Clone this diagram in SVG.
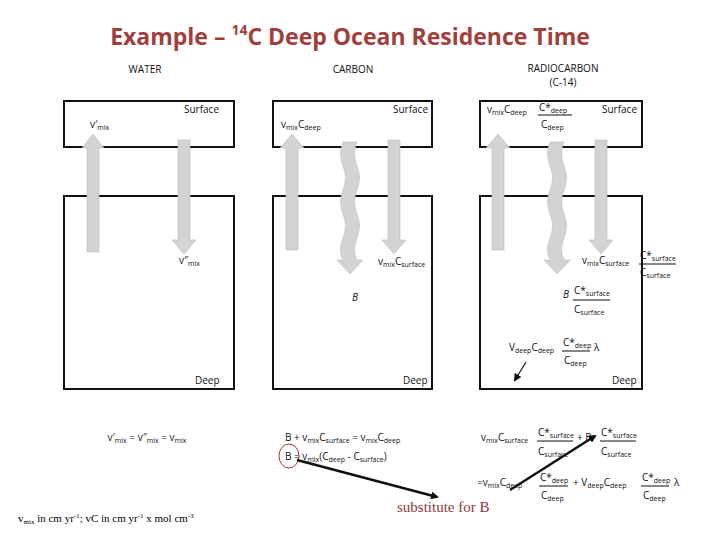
<svg xmlns="http://www.w3.org/2000/svg" width="720" height="540" viewBox="0 0 720 540">
<defs>
<style>
.t{font-family:"Open Sans","Liberation Sans",sans-serif;fill:#111}
.s{font-size:10px}
.box{fill:none;stroke:#111;stroke-width:2}
.ar{fill:#d3d3d3;stroke:#bbb;stroke-width:0.6}
.con{stroke:#111;stroke-width:2.5;fill:none}
.red{font-family:"Liberation Serif",serif;fill:#8b3a3a}
</style>
<marker id="ah" markerWidth="8" markerHeight="8" refX="6" refY="4" orient="auto" markerUnits="userSpaceOnUse"><path d="M0,0 L8,4 L0,8 z" fill="#111"/></marker>
</defs>
<rect width="720" height="540" fill="#fff"/>
<text x="350" y="45" text-anchor="middle" font-weight="bold" style="font-family:'Open Sans','Liberation Sans',sans-serif;font-size:23px;fill:#a0403c">Example – <tspan font-size="14" dy="-10">14</tspan><tspan dy="10">C Deep Ocean Residence Time</tspan></text>

<g id="water">
<text class="t s" x="145" y="73" text-anchor="middle">WATER</text>
<rect class="box" x="64" y="101" width="170" height="46"/>
<rect class="box" x="64" y="196" width="170" height="193"/>
<text class="t s" x="184" y="113">Surface</text>
<text class="t s" x="90" y="128">v′<tspan font-size="7" dy="2">mix</tspan></text>
<path class="ar" d="M87,252 V148 H82 L93,134 L104,148 H99 V252 z"/>
<path class="ar" d="M178,140 V240 H172 L184,254 L196,240 H190 V140 z"/>
<text class="t s" x="179" y="264">v″<tspan font-size="7" dy="2">mix</tspan></text>
<text class="t s" x="195" y="384">Deep</text>
<text class="t s" x="147" y="441" text-anchor="middle">v′<tspan font-size="7" dy="2">mix</tspan><tspan dy="-2"> = v″</tspan><tspan font-size="7" dy="2">mix</tspan><tspan dy="-2"> = v</tspan><tspan font-size="7" dy="2">mix</tspan></text>
<text x="18" y="522" style="font-family:'Liberation Serif',serif;font-size:11px">v<tspan font-size="7" dy="2">mix</tspan><tspan dy="-2"> in cm yr</tspan><tspan font-size="7" dy="-4">-1</tspan><tspan dy="4">; vC in cm yr</tspan><tspan font-size="7" dy="-4">-1</tspan><tspan dy="4"> x mol cm</tspan><tspan font-size="7" dy="-4">-3</tspan></text>
</g>

<g id="carbon">
<text class="t s" x="353" y="73" text-anchor="middle">CARBON</text>
<rect class="box" x="273" y="101" width="159" height="46"/>
<rect class="box" x="273" y="196" width="159" height="193"/>
<text class="t s" x="393" y="113">Surface</text>
<text class="t s" x="281" y="128">v<tspan font-size="7" dy="2">mix</tspan><tspan dy="-2">C</tspan><tspan font-size="7" dy="2">deep</tspan></text>
<path class="ar" d="M286,250 V148 H280 L292,134 L304,148 H298 V250 z"/>
<path class="ar" d="M343,142 q-5,12 0,24 q5,12 0,24 q-5,12 0,24 q5,12 0,24 q-5,12 0,22 h-6 l13,14 l13,-14 h-6 q-5,-10 0,-22 q5,-12 0,-24 q-5,-12 0,-24 q5,-12 0,-24 q-5,-12 0,-24 z"/>
<path class="ar" d="M388,140 V240 H382 L394,254 L406,240 H400 V140 z"/>
<text class="t s" x="378" y="265">v<tspan font-size="7" dy="2">mix</tspan><tspan dy="-2">C</tspan><tspan font-size="7" dy="2">surface</tspan></text>
<text class="t s" x="352" y="301" font-style="italic">B</text>
<text class="t s" x="403" y="384">Deep</text>
<text class="t s" x="285" y="441">B + v<tspan font-size="7" dy="2">mix</tspan><tspan dy="-2">C</tspan><tspan font-size="7" dy="2">surface</tspan><tspan dy="-2"> = v</tspan><tspan font-size="7" dy="2">mix</tspan><tspan dy="-2">C</tspan><tspan font-size="7" dy="2">deep</tspan></text>
<text class="t s" x="285" y="460">B = v<tspan font-size="7" dy="2">mix</tspan><tspan dy="-2">(C</tspan><tspan font-size="7" dy="2">deep</tspan><tspan dy="-2"> - C</tspan><tspan font-size="7" dy="2">surface</tspan><tspan dy="-2">)</tspan></text>
<ellipse cx="289" cy="456" rx="10" ry="12" fill="none" stroke="#b03030" stroke-width="1"/>
</g>

<g id="radiocarbon">
<text class="t s" x="563" y="72" text-anchor="middle">RADIOCARBON</text>
<text class="t s" x="563" y="86" text-anchor="middle">(C-14)</text>
<rect class="box" x="480" y="101" width="162" height="46"/>
<rect class="box" x="480" y="196" width="162" height="193"/>
<text class="t s" x="602" y="113">Surface</text>
<text class="t s" x="487" y="113">v<tspan font-size="7" dy="2">mix</tspan><tspan dy="-2">C</tspan><tspan font-size="7" dy="2">deep</tspan></text>
<text class="t s" x="539" y="111">C*<tspan font-size="7" dy="2">deep</tspan></text>
<line x1="538" y1="115" x2="572" y2="115" stroke="#111"/>
<text class="t s" x="541" y="128">C<tspan font-size="7" dy="2">deep</tspan></text>
<path class="ar" d="M492,250 V148 H486 L498,134 L510,148 H504 V250 z"/>
<path class="ar" d="M550,142 q-5,12 0,24 q5,12 0,24 q-5,12 0,24 q5,12 0,24 q-5,12 0,22 h-6 l13,14 l13,-14 h-6 q-5,-10 0,-22 q5,-12 0,-24 q-5,-12 0,-24 q5,-12 0,-24 q-5,-12 0,-24 z"/>
<path class="ar" d="M595,140 V240 H589 L601,254 L613,240 H607 V140 z"/>
<text class="t s" x="582" y="264">v<tspan font-size="7" dy="2">mix</tspan><tspan dy="-2">C</tspan><tspan font-size="7" dy="2">surface</tspan></text>
<text class="t s" x="640" y="259">C*<tspan font-size="7" dy="2">surface</tspan></text>
<line x1="639" y1="264" x2="676" y2="264" stroke="#111"/>
<text class="t s" x="640" y="276">C<tspan font-size="7" dy="2">surface</tspan></text>
<text class="t s" x="563" y="298" font-style="italic">B</text>
<text class="t s" x="574" y="294">C*<tspan font-size="7" dy="2">surface</tspan></text>
<line x1="573" y1="300" x2="610" y2="300" stroke="#111"/>
<text class="t s" x="574" y="313">C<tspan font-size="7" dy="2">surface</tspan></text>
<text class="t s" x="509" y="351">V<tspan font-size="7" dy="2">deep</tspan><tspan dy="-2">C</tspan><tspan font-size="7" dy="2">deep</tspan></text>
<text class="t s" x="563" y="346">C*<tspan font-size="7" dy="2">deep</tspan></text>
<line x1="562" y1="351" x2="590" y2="351" stroke="#111"/>
<text class="t s" x="564" y="364">C<tspan font-size="7" dy="2">deep</tspan></text>
<text class="t s" x="594" y="351">λ</text>
<line x1="526" y1="362" x2="515" y2="380" stroke="#111" stroke-width="1.2" marker-end="url(#ah)"/>
<text class="t s" x="612" y="384">Deep</text>
<text class="t s" x="481" y="441">v<tspan font-size="7" dy="2">mix</tspan><tspan dy="-2">C</tspan><tspan font-size="7" dy="2">surface</tspan></text>
<text class="t s" x="538" y="436">C*<tspan font-size="7" dy="2">surface</tspan></text>
<line x1="537" y1="441" x2="573" y2="441" stroke="#111"/>
<text class="t s" x="538" y="455">C<tspan font-size="7" dy="2">surface</tspan></text>
<text class="t s" x="577" y="441">+ B</text>
<text class="t s" x="601" y="436">C*<tspan font-size="7" dy="2">surface</tspan></text>
<line x1="600" y1="441" x2="636" y2="441" stroke="#111"/>
<text class="t s" x="601" y="455">C<tspan font-size="7" dy="2">surface</tspan></text>
<text class="t s" x="477" y="486">=v<tspan font-size="7" dy="2">mix</tspan><tspan dy="-2">C</tspan><tspan font-size="7" dy="2">deep</tspan></text>
<text class="t s" x="540" y="481">C*<tspan font-size="7" dy="2">deep</tspan></text>
<line x1="539" y1="486" x2="568" y2="486" stroke="#111"/>
<text class="t s" x="541" y="499">C<tspan font-size="7" dy="2">deep</tspan></text>
<text class="t s" x="573" y="486">+ V<tspan font-size="7" dy="2">deep</tspan><tspan dy="-2">C</tspan><tspan font-size="7" dy="2">deep</tspan></text>
<text class="t s" x="642" y="481">C*<tspan font-size="7" dy="2">deep</tspan></text>
<line x1="641" y1="486" x2="669" y2="486" stroke="#111"/>
<text class="t s" x="643" y="499">C<tspan font-size="7" dy="2">deep</tspan></text>
<text class="t s" x="674" y="486">λ</text>
</g>

<g id="substitute">
<text class="red" x="397" y="512" font-size="15">substitute for B</text>
</g>

<g id="connectors">
<line class="con" x1="297" y1="460" x2="437" y2="497" marker-end="url(#ah)"/>
<line class="con" x1="510" y1="490" x2="595" y2="436" marker-end="url(#ah)"/>
</g>
</svg>
